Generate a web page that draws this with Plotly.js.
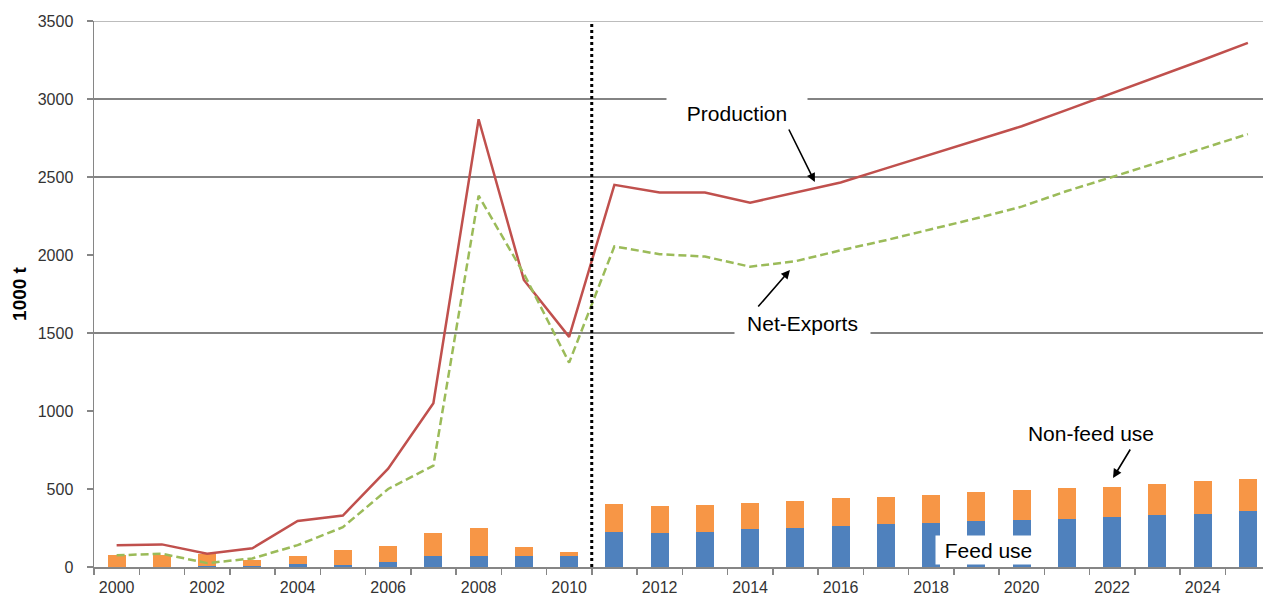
<!DOCTYPE html>
<html>
<head>
<meta charset="utf-8">
<script src="https://cdn.plot.ly/plotly-3.0.1.min.js"></script>
<style>html,body{margin:0;padding:0;background:#fff;}#chart{width:1263px;height:598px;}</style>
</head>
<body>
<div id="chart"></div>
<script>
// ---- data (1000 t) ----
var years = [2000,2001,2002,2003,2004,2005,2006,2007,2008,2009,2010,2011,2012,2013,2014,2015,2016,2017,2018,2019,2020,2021,2022,2023,2024,2025];
var production = [140,145,85,120,295,330,630,1050,2870,1840,1475,2450,2400,2400,2335,2400,2465,2555,2645,2735,2825,2930,3035,3140,3250,3360];
var netExports = [75,85,25,55,140,255,500,650,2380,1880,1310,2055,2005,1990,1925,1960,2030,2095,2165,2235,2310,2410,2500,2590,2680,2775];
var feedUse = [0,0,5,8,20,10,30,73,73,73,70,227,218,227,243,252,261,278,284,293,301,310,318,333,342,359];
var nonFeedUse = [80,75,80,37,53,101,107,145,179,55,25,179,173,173,165,173,179,171,180,190,190,196,197,197,207,205];
var tickYears = [2000,2002,2004,2006,2008,2010,2012,2014,2016,2018,2020,2022,2024];
var yTicks = [0,500,1000,1500,2000,2500,3000,3500];
var gridValues = [1500,2500,3000];
var projectionStart = 2010.5;

var FONT = 'Liberation Sans, Arial, sans-serif';

var traces = [
  {type:'bar', x:years, y:feedUse, name:'Feed use', marker:{color:'#4F81BD'}, width:0.4, hoverinfo:'x+y'},
  {type:'bar', x:years, y:nonFeedUse, name:'Non-feed use', marker:{color:'#F79646'}, width:0.4, hoverinfo:'x+y'},
  {type:'scatter', mode:'lines', x:years, y:production, name:'Production', line:{color:'#C0504D', width:2.5}},
  {type:'scatter', mode:'lines', x:years, y:netExports, name:'Net-Exports', line:{color:'#9BBB59', width:2.5, dash:'8px,4px'}}
];

var shapes = gridValues.map(function(v){
  return {type:'line', xref:'paper', x0:0, x1:1, yref:'y', y0:v, y1:v, layer:'below', line:{color:'#5a5a5a', width:1.3}};
});
shapes.push({type:'line', xref:'paper', x0:0, x1:1, yref:'y', y0:3500, y1:3500, layer:'below', line:{color:'#a6a6a6', width:1.3}});
shapes.push({type:'line', xref:'x', x0:projectionStart, x1:projectionStart, yref:'y', y0:0, y1:3500, layer:'above', line:{color:'#000', width:3, dash:'dot'}});

function txt(text, x, y, w, h){
  return {text:text, x:x, y:y, xref:'x', yref:'y', showarrow:false, bgcolor:'#fff', width:w, height:h, borderpad:0,
          font:{family:FONT, size:21, color:'#000'}, xanchor:'center', yanchor:'middle'};
}
function arr(x0,y0,x1,y1){
  return {text:'', x:x1, y:y1, ax:x0, ay:y0, xref:'x', yref:'y', axref:'x', ayref:'y', showarrow:true,
          arrowhead:2, arrowsize:1.1, arrowwidth:1.6, arrowcolor:'#000'};
}

var annotations = [
  txt('Production', 2013.71, 2910, 140, 42),
  txt('Net-Exports', 2015.15, 1564, 135, 30),
  txt('Non-feed use', 2021.53, 859, 136, 28),
  txt('Feed use', 2019.26, 109, 105, 28),
  arr(2014.84, 2814, 2015.43, 2468),
  arr(2014.15, 1660, 2014.88, 1904),
  arr(2022.42, 763, 2022.02, 571)
];

var layout = {
  width:1263, height:598,
  margin:{l:94, r:0, t:21, b:31},
  paper_bgcolor:'#fff', plot_bgcolor:'#fff',
  barmode:'stack', showlegend:false,
  xaxis:{
    range:[1999.5, 2025.334], tickmode:'array', tickvals:tickYears, ticktext:tickYears.map(String),
    ticks:'', showgrid:false, zeroline:false, showline:true, linecolor:'#868686', linewidth:1.5,
    tickfont:{family:FONT, size:16, color:'#333'}, ticklabelstandoff:5,
    minor:{ticks:'outside', tick0:1999.5, dtick:1, ticklen:6, tickwidth:1.5, tickcolor:'#868686', showgrid:false}
  },
  yaxis:{
    range:[0,3500], tickmode:'array', tickvals:yTicks, ticks:'outside', ticklen:6, tickwidth:1.5, tickcolor:'#868686',
    showgrid:false, zeroline:false, showline:true, linecolor:'#868686', linewidth:1.5,
    tickfont:{family:FONT, size:16, color:'#333'}, ticklabelstandoff:10,
    title:{text:'1000 t', font:{family:FONT, size:19, color:'#000', weight:'bold'}, standoff:6}
  },
  shapes:shapes,
  annotations:annotations
};

Plotly.newPlot('chart', traces, layout, {displayModeBar:false, staticPlot:true});
</script>
</body>
</html>
